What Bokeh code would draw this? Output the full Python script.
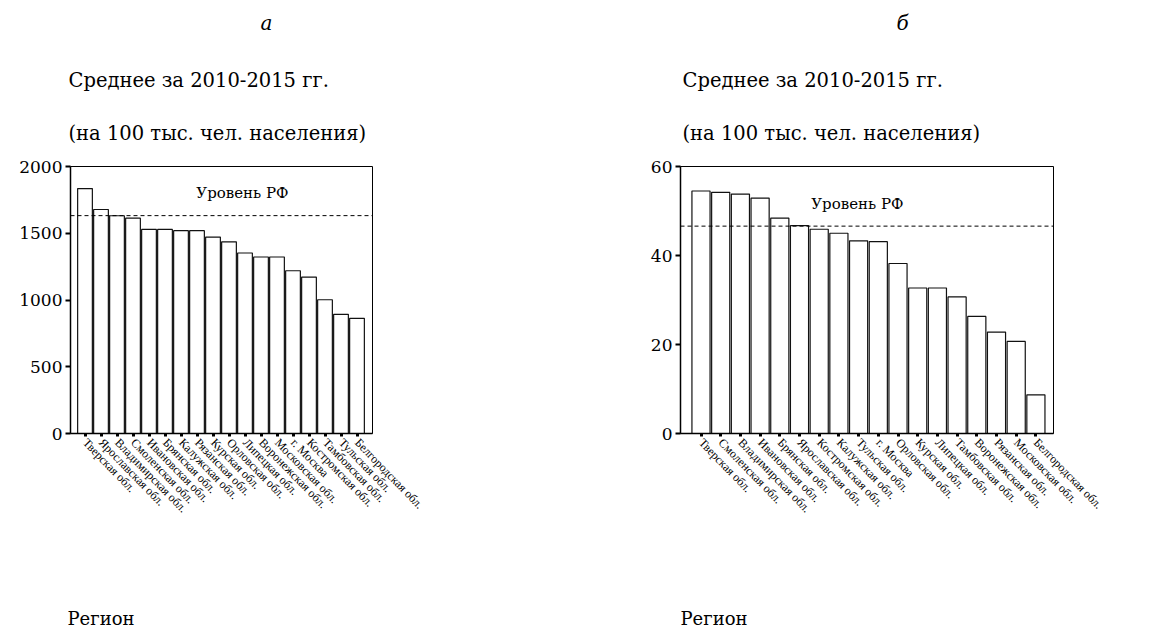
from bokeh.plotting import figure
from bokeh.layouts import row, column
from bokeh.models import Range1d, FixedTicker, Span, Label, ColumnDataSource
from bokeh.core.properties import value
from bokeh.embed import file_html
from bokeh.resources import INLINE

# Panel "а": average 2010-2015, per 100k population
regions_a = [
    "Тверская обл.", "Ярославская обл.", "Владимирская обл.", "Смоленская обл.",
    "Ивановская обл.", "Брянская обл.", "Калужская обл.", "Рязанская обл.",
    "Курская обл.", "Орловская обл.", "Липецкая обл.", "Воронежская обл.",
    "Московская обл.", "г. Москва", "Костромская обл.", "Тамбовская обл.",
    "Тульская обл.", "Белгородская обл.",
]
values_a = [1835, 1678, 1631, 1613, 1529, 1529, 1519, 1519, 1471, 1436,
            1352, 1322, 1322, 1219, 1172, 1002, 893, 863]
rf_level_a = 1632
yticks_a = [0, 500, 1000, 1500, 2000]

# Panel "б": average 2010-2015, per 100k population
regions_b = [
    "Тверская обл.", "Смоленская обл.", "Владимирская обл.", "Ивановская обл.",
    "Брянская обл.", "Ярославская обл.", "Костромская обл.", "Калужская обл.",
    "Тульская обл.", "г. Москва", "Орловская обл.", "Курская обл.",
    "Липецкая обл.", "Тамбовская обл.", "Воронежская обл.", "Рязанская обл.",
    "Московская обл.", "Белгородская обл.",
]
values_b = [54.5, 54.2, 53.8, 52.9, 48.4, 46.7, 45.9, 45.0, 43.3, 43.1,
            38.2, 32.7, 32.7, 30.7, 26.3, 22.8, 20.7, 8.7]
rf_level_b = 46.6
yticks_b = [0, 20, 40, 60]

panel_letters = ["а", "б"]
heading_1 = "Среднее за 2010-2015 гг."
heading_2 = "(на 100 тыс. чел. населения)"
rf_caption = "Уровень РФ"
x_caption = "Регион"

SERIF = "DejaVu Serif"
LABEL_SERIF = "Liberation Serif"

PAGE_W = 1160
HEADER_H = 154
FRAME_GAP = 12          # space between header strip and the plot frame
FRAME_H = 267
BOTTOM_BORDER = 120
FOOTER_H = 628 - HEADER_H - FRAME_GAP - FRAME_H - BOTTOM_BORDER


def text_strip(height, items):
    """A bare strip (no axes) used for headings and captions, y measured from top."""
    s = figure(output_backend="svg", toolbar_location=None,
               width=PAGE_W, height=height,
               x_range=Range1d(0, PAGE_W), y_range=Range1d(height, 0),
               x_axis_location=None, y_axis_location=None,
               min_border=0, min_border_left=0, min_border_right=0,
               min_border_top=0, min_border_bottom=0,
               background_fill_color="white", border_fill_color="white",
               outline_line_color=None)
    s.xgrid.visible = False
    s.ygrid.visible = False
    for (x, y, txt, size, style, align) in items:
        s.text(x=[x], y=[y], text=[txt], text_font=value(SERIF),
               text_font_size=size, text_font_style=style,
               text_color="black", text_align=align,
               text_baseline="middle")
    return s


def panel(regions, values, rf_level, rf_pos, yticks,
          fig_left, frame_left, frame_w, bar_pitch, first_center, fig_w):
    n = len(values)
    ymax = yticks[-1]
    x0 = (frame_left - first_center) / bar_pitch
    x1 = x0 + frame_w / bar_pitch

    p = figure(
        output_backend="svg", toolbar_location=None, title=None,
        x_range=Range1d(x0, x1), y_range=Range1d(0, ymax),
        frame_width=frame_w, frame_height=FRAME_H,
        min_border_left=frame_left - fig_left,
        min_border_right=fig_w - (frame_left - fig_left) - frame_w,
        min_border_top=FRAME_GAP,
        min_border_bottom=BOTTOM_BORDER,
        background_fill_color="white", border_fill_color="white",
    )
    p.xgrid.visible = False
    p.ygrid.visible = False
    p.outline_line_color = "black"
    p.outline_line_width = 1

    src = ColumnDataSource(dict(x=list(range(n)), top=values))
    p.vbar(x="x", top="top", width=0.92, bottom=0, source=src,
           fill_color="white", line_color="#111111", line_width=1.2)

    p.add_layout(Span(location=rf_level, dimension="width",
                      line_color="black", line_width=1, line_dash="4 3"))

    # y axis
    ya = p.yaxis[0]
    ya.ticker = FixedTicker(ticks=yticks)
    ya.minor_tick_line_color = None
    ya.major_tick_in = 0
    ya.major_tick_out = 5
    ya.major_tick_line_width = 2
    ya.axis_line_width = 1.5
    ya.major_label_standoff = 3
    ya.major_label_text_font = SERIF
    ya.major_label_text_font_size = "17px"
    ya.major_label_text_color = "black"

    # x axis with region names
    xa = p.xaxis[0]
    xa.ticker = FixedTicker(ticks=list(range(n)))
    xa.major_label_overrides = {i: name for i, name in enumerate(regions)}
    xa.major_label_orientation = -0.8
    xa.minor_tick_line_color = None
    xa.major_tick_in = 0
    xa.major_tick_out = 3
    xa.major_tick_line_width = 3
    xa.axis_line_width = 1.5
    xa.major_label_standoff = 4
    xa.major_label_text_font = LABEL_SERIF
    xa.major_label_text_font_size = "12px"
    xa.major_label_text_color = "black"

    # caption for the national level line
    p.add_layout(Label(x=rf_pos[0], y=rf_pos[1] * ymax, text=rf_caption,
                       text_font=SERIF, text_font_size="15px",
                       text_color="black",
                       text_align="center", text_baseline="middle"))
    return p


header = text_strip(HEADER_H, [
    (266, 22, panel_letters[0], "20px", "italic", "center"),
    (902, 22, panel_letters[1], "20px", "italic", "center"),
    (68, 80, heading_1, "19.5px", "normal", "left"),
    (682, 80, heading_1, "19.5px", "normal", "left"),
    (68, 133, heading_2, "19.5px", "normal", "left"),
    (682, 133, heading_2, "19.5px", "normal", "left"),
])

pa = panel(regions_a, values_a, rf_level_a, (9.84, 0.899), yticks_a,
           fig_left=0, frame_left=70, frame_w=302, bar_pitch=16.0,
           first_center=84.5, fig_w=580)
pb = panel(regions_b, values_b, rf_level_b, (7.94, 0.861), yticks_b,
           fig_left=580, frame_left=680, frame_w=373, bar_pitch=19.7,
           first_center=700.5, fig_w=580)

footer = text_strip(FOOTER_H, [
    (67, FOOTER_H - 10, x_caption, "18px", "normal", "left"),
    (680, FOOTER_H - 10, x_caption, "18px", "normal", "left"),
])

layout = column(header, row(pa, pb, spacing=0), footer, spacing=0)
open("out.html", "w").write(file_html(layout, INLINE))
